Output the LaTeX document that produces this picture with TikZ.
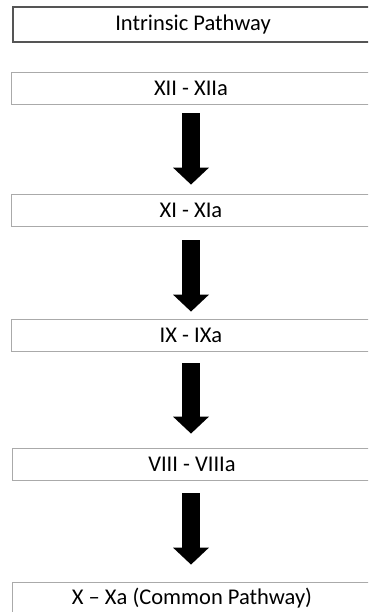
\documentclass[tikz,border=0pt]{standalone}
\usepackage{fontspec}
\setmainfont{Carlito}
\usetikzlibrary{arrows.meta}
\definecolor{boxline}{RGB}{170, 170, 170}
\definecolor{titleline}{RGB}{85, 85, 85}
\tikzset{
    stagebox/.style={draw=boxline, line width=0.8pt, fill=white,
        minimum width=360pt, minimum height=32pt, inner sep=0pt,
        font=\fontsize{22.5}{27}\selectfont},
    titlebox/.style={stagebox, draw=titleline, line width=1.2pt,
        minimum height=35pt},
    bigarrow/.style={line width=18pt,
        -{Triangle[width=35pt, length=17pt]}},
}
\begin{document}
\begin{tikzpicture}[x=1pt, y=-1pt]
    \clip (0, 0) rectangle (368, 612);
    \node[titlebox] (intr) at (193, 24.5) {Intrinsic Pathway};
    \node[stagebox] (xii) at (191, 88) {XII - XIIa};
    \node[stagebox] (xi) at (191, 210) {XI - XIa};
    \node[stagebox] (ix) at (191, 335) {IX - IXa};
    \node[stagebox] (viii) at (192, 464) {VIII - VIIIa};
    \node[stagebox] (xa) at (192, 598) {X -- Xa (Common Pathway)};
    % cascade arrows
    \draw[bigarrow, shorten <=9pt, shorten >=9pt] (xii.south) -- (xi.north);
    \draw[bigarrow, shorten <=14pt, shorten >=7pt] (xi.south) -- (ix.north);
    \draw[bigarrow, shorten <=12pt, shorten >=14pt] (ix.south) -- (ix.south |- viii.north);
    \draw[bigarrow, shorten <=13pt, shorten >=17pt] (ix.south |- viii.south) -- (ix.south |- xa.north);
\end{tikzpicture}
\end{document}
